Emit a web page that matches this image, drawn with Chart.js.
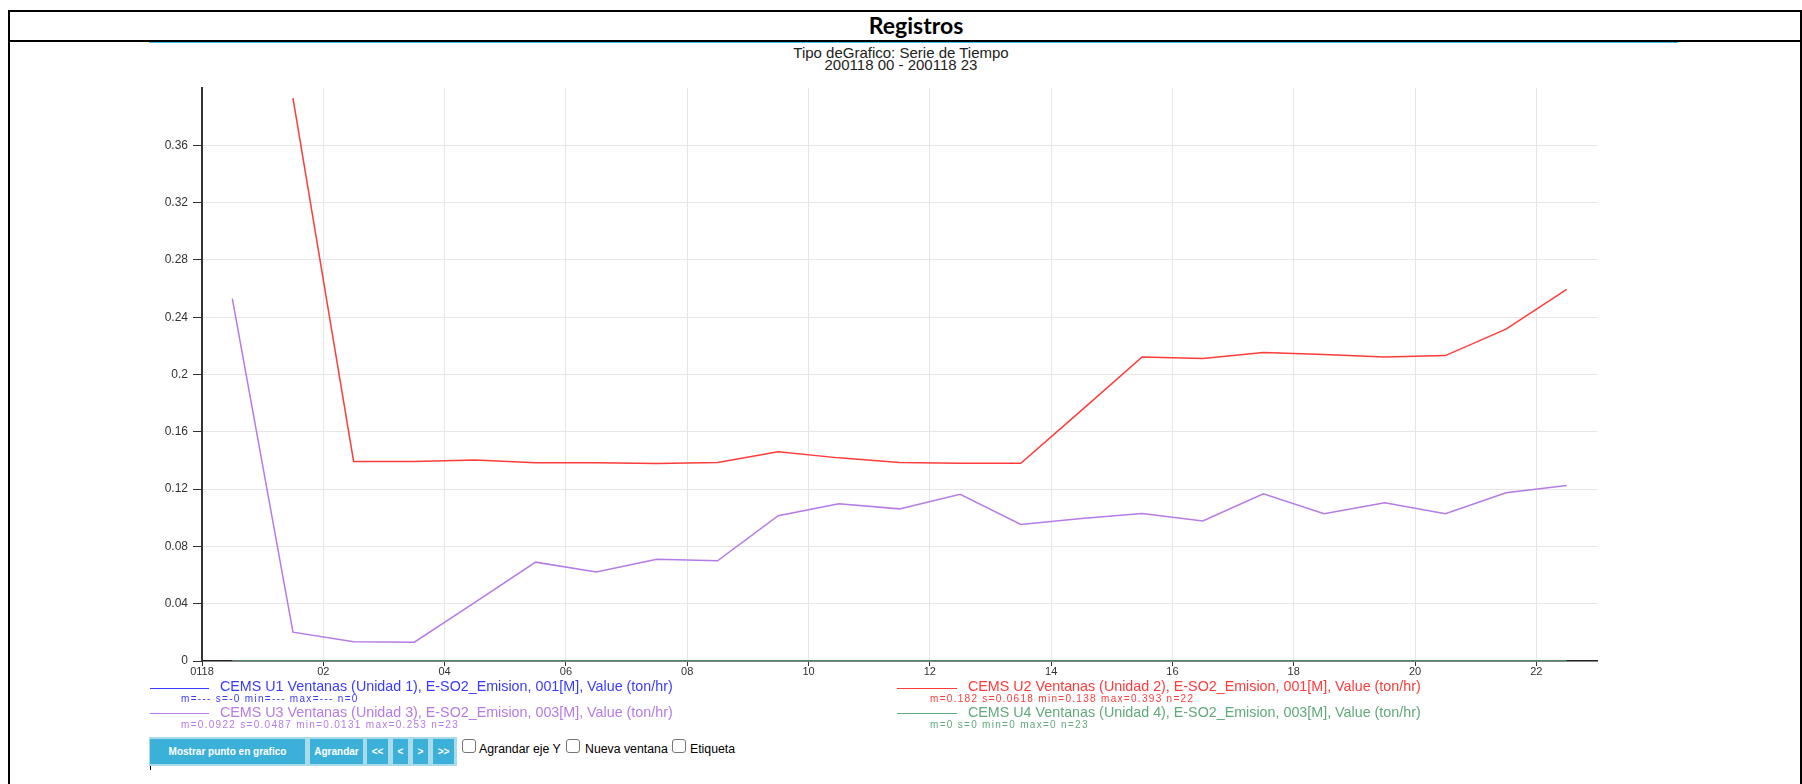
<!DOCTYPE html>
<html>
<head>
<meta charset="utf-8">
<script src="https://cdn.jsdelivr.net/npm/chart.js@4/dist/chart.umd.min.js"></script>
<style>
  html, body { margin:0; padding:0; background:#fff; }
  body { width:1802px; height:784px; position:relative; overflow:hidden; font-family:'Liberation Sans', Arial, sans-serif; }
  .abs { position:absolute; }
  .bar { position:absolute; background:#000; }
  .ltxt { position:absolute; white-space:nowrap; font-size:14.3px; line-height:16px; }
  .lstat { position:absolute; white-space:nowrap; font-size:10px; line-height:12px; letter-spacing:1.3px; }
  .lline { position:absolute; height:1.5px; }
  .btn { position:absolute; top:739px; height:25px; background:#3bb0d9; color:#fff; font-weight:bold; font-size:10px; line-height:25px; text-align:center; white-space:nowrap; }
  .cb { position:absolute; top:739px; width:12px; height:12px; border:1px solid #767676; border-radius:3px; background:#fff; }
  .cbl { position:absolute; top:741px; font-size:12.3px; line-height:16px; white-space:nowrap; color:#000; }
</style>
</head>
<body>
<!-- frame -->
<div class="bar" style="left:8px;top:10px;width:1794px;height:2px;"></div>
<div class="bar" style="left:8px;top:10px;width:2px;height:774px;"></div>
<div class="bar" style="left:1800px;top:10px;width:2px;height:774px;"></div>
<div class="bar" style="left:8px;top:40px;width:1794px;height:2px;"></div>
<div class="abs" style="left:149px;top:42px;width:1529px;height:1px;background:#3fbfe6;"></div>
<div class="abs" id="title" style="left:716px;top:12px;width:400px;text-align:center;font-family:Lato,'Open Sans',sans-serif;font-weight:bold;font-size:23px;line-height:26px;color:#000;"></div>
<div class="abs" id="sub" style="left:601px;top:46.6px;width:600px;text-align:center;font-size:15px;line-height:12.6px;color:#222;"></div>

<canvas id="c" width="1802" height="610" style="position:absolute;left:0;top:70px;width:1802px;height:610px;"></canvas>
<div id="legend"></div>
<div id="controls"></div>

<script>
// ---------- data ----------
const titleText = 'Registros';
const subtitleLines = ['Tipo deGrafico: Serie de Tiempo', '200118 00 - 200118 23'];

const hours = [0.5, 1.5, 2.5, 3.5, 4.5, 5.5, 6.5, 7.5, 8.5, 9.5, 10.5, 11.5,
               12.5, 13.5, 14.5, 15.5, 16.5, 17.5, 18.5, 19.5, 20.5, 21.5, 22.5];

const u1Values = [];
const u2Values = [null, 0.393, 0.1393, 0.1393, 0.1403, 0.1384, 0.1384, 0.1378, 0.1386, 0.1461, 0.1418, 0.1386,
                  0.138, 0.138, 0.175, 0.2122, 0.2111, 0.2154, 0.214, 0.2122, 0.2132, 0.2317, 0.2595];
const u3Values = [0.253, 0.0201, 0.0135, 0.0131, 0.041, 0.069, 0.0622, 0.071, 0.0699, 0.1014, 0.1098, 0.1062,
                  0.1164, 0.0953, 0.0995, 0.103, 0.0977, 0.1167, 0.1028, 0.1105, 0.1028, 0.1175, 0.1225];
const u4Values = [0, 0, 0, 0, 0, 0, 0, 0, 0, 0, 0, 0, 0, 0, 0, 0, 0, 0, 0, 0, 0, 0, 0];

const xTickValues = [0, 2, 4, 6, 8, 10, 12, 14, 16, 18, 20, 22];
const xTickLabels = ['0118', '02', '04', '06', '08', '10', '12', '14', '16', '18', '20', '22'];
const yTickValues = [0, 0.04, 0.08, 0.12, 0.16, 0.2, 0.24, 0.28, 0.32, 0.36];
const yTickLabels = ['0', '0.04', '0.08', '0.12', '0.16', '0.2', '0.24', '0.28', '0.32', '0.36'];

const seriesNames = [
  'CEMS U1 Ventanas (Unidad 1), E-SO2_Emision, 001[M], Value (ton/hr)',
  'CEMS U2 Ventanas (Unidad 2), E-SO2_Emision, 001[M], Value (ton/hr)',
  'CEMS U3 Ventanas (Unidad 3), E-SO2_Emision, 003[M], Value (ton/hr)',
  'CEMS U4 Ventanas (Unidad 4), E-SO2_Emision, 003[M], Value (ton/hr)'
];
const seriesStats = [
  'm=--- s=-0 min=--- max=--- n=0',
  'm=0.182 s=0.0618 min=0.138 max=0.393 n=22',
  'm=0.0922 s=0.0487 min=0.0131 max=0.253 n=23',
  'm=0 s=0 min=0 max=0 n=23'
];
const seriesColors = ['#3a3aff', '#ff3b3b', '#b57be6', '#62a97c'];

const buttonLabels = ['Mostrar punto en grafico', 'Agrandar', '<<', '<', '>', '>>'];
const checkboxLabels = ['Agrandar eje Y', 'Nueva ventana', 'Etiqueta'];

// ---------- text ----------
document.getElementById('title').textContent = titleText;
document.getElementById('sub').innerHTML = subtitleLines.map(s => '<div>' + s.replace(/&/g,'&amp;') + '</div>').join('');

// legend (two columns x two rows)
const legendCols = [{line:150, lineW:59, text:220, stat:181}, {line:897, lineW:60, text:968, stat:930}];
const legendRows = [{text:678.2, line:687.5, stat:693}, {text:704, line:712.5, stat:719.3}];
const legendSlots = [[0,0],[1,0],[0,1],[1,1]]; // [col,row] for each series
const legend = document.getElementById('legend');
seriesNames.forEach((name, i) => {
  const c = legendCols[legendSlots[i][0]], r = legendRows[legendSlots[i][1]];
  const ln = document.createElement('div'); ln.className = 'lline';
  ln.style.cssText += `left:${c.line}px;top:${r.line}px;width:${c.lineW}px;background:${seriesColors[i]};`;
  legend.appendChild(ln);
  const t = document.createElement('div'); t.className = 'ltxt';
  t.style.cssText += `left:${c.text}px;top:${r.text}px;color:${seriesColors[i]};`;
  t.textContent = name; legend.appendChild(t);
  const s = document.createElement('div'); s.className = 'lstat';
  s.style.cssText += `left:${c.stat}px;top:${r.stat}px;color:${seriesColors[i]};`;
  s.textContent = seriesStats[i]; legend.appendChild(s);
});

// controls
const controls = document.getElementById('controls');
const box = document.createElement('div'); box.className = 'abs';
box.style.cssText += 'left:149px;top:737px;width:308px;height:29px;background:#a9dbeb;';
controls.appendChild(box);
const btnX = [[150,305],[310,363],[367,388],[393,408],[413,428],[433,454]];
buttonLabels.forEach((lab, i) => {
  const b = document.createElement('div'); b.className = 'btn';
  b.style.left = btnX[i][0] + 'px'; b.style.width = (btnX[i][1] - btnX[i][0]) + 'px';
  b.textContent = lab; controls.appendChild(b);
});
const cbX = [[462, 479], [566, 585], [672, 690]];
checkboxLabels.forEach((lab, i) => {
  const cb = document.createElement('div'); cb.className = 'cb'; cb.style.left = cbX[i][0] + 'px';
  controls.appendChild(cb);
  const l = document.createElement('div'); l.className = 'cbl'; l.style.left = cbX[i][1] + 'px';
  l.textContent = lab; controls.appendChild(l);
});
const cur = document.createElement('div'); cur.className = 'abs';
cur.style.cssText += 'left:150px;top:766px;width:1px;height:4px;background:#000;';
controls.appendChild(cur);

// ---------- chart ----------
Chart.defaults.font.family = "'Liberation Sans', Arial, sans-serif";
const toPts = arr => hours.map((h, i) => ({x: h, y: arr[i]})).filter(p => p.y !== null && p.y !== undefined);

new Chart(document.getElementById('c'), {
  type: 'line',
  data: {
    datasets: [
      {label: seriesNames[3], data: toPts(u4Values), borderColor: seriesColors[3], borderWidth: 1.5},
      {label: seriesNames[0], data: toPts(u1Values), borderColor: seriesColors[0], borderWidth: 1.5},
      {label: seriesNames[2], data: toPts(u3Values), borderColor: seriesColors[2], borderWidth: 1.5},
      {label: seriesNames[1], data: toPts(u2Values), borderColor: seriesColors[1], borderWidth: 1.5}
    ]
  },
  options: {
    responsive: false,
    animation: false,
    devicePixelRatio: 1,
    layout: {padding: {left: 0, right: 205, top: 18, bottom: 0}},
    elements: {point: {radius: 0}, line: {tension: 0, fill: false}},
    plugins: {legend: {display: false}, tooltip: {enabled: false}, title: {display: false}},
    scales: {
      x: {
        type: 'linear', min: 0, max: 23,
        afterFit: s => { s.height = 19; },
        afterBuildTicks: ax => { ax.ticks = xTickValues.map(v => ({value: v})); },
        ticks: {autoSkip: false, maxRotation: 0, padding: -1, color: '#333', font: {size: 11},
                callback: v => xTickLabels[xTickValues.indexOf(v)]},
        grid: {color: '#e6e6e6', lineWidth: 1, tickLength: 5, tickColor: '#333'},
        border: {color: '#222', width: 1.5}
      },
      y: {
        type: 'linear', min: 0, max: 0.4,
        afterFit: s => { s.width = 202; },
        afterBuildTicks: ax => { ax.ticks = yTickValues.map(v => ({value: v})); },
        ticks: {autoSkip: false, padding: 5, color: '#333', font: {size: 12},
                callback: v => yTickLabels[yTickValues.indexOf(v)]},
        grid: {color: '#e6e6e6', lineWidth: 1, tickLength: 9, tickColor: '#333'},
        border: {color: '#333', width: 2}
      }
    }
  }
});
</script>
</body>
</html>
